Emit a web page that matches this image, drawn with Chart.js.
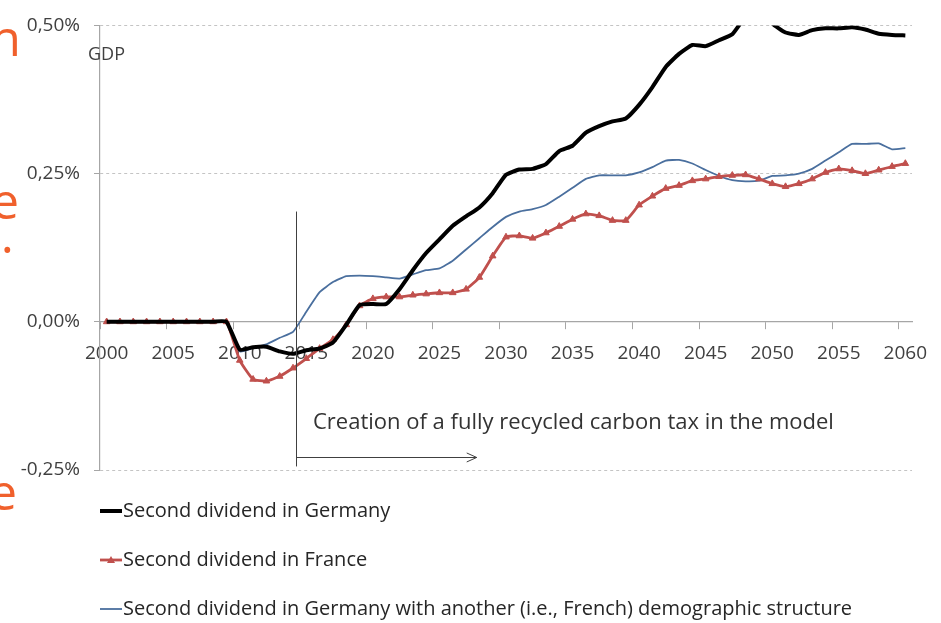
<!DOCTYPE html>
<html>
<head>
<meta charset="utf-8">
<title>Second dividend</title>
<script src="https://cdn.jsdelivr.net/npm/chart.js@4.4.1/dist/chart.umd.min.js"></script>
<style>
  html, body { margin: 0; padding: 0; background: #fff; }
  #wrap { width: 941px; height: 623px; }
</style>
</head>
<body>
<div id="wrap"><canvas id="chart" width="941" height="623"></canvas></div>
<script>
// ---- data (in % of GDP) ----
const years = [
  '2000','2001','2002','2003','2004','2005','2006','2007','2008','2009',
  '2010','2011','2012','2013','2014','2015','2016','2017','2018','2019',
  '2020','2021','2022','2023','2024','2025','2026','2027','2028','2029',
  '2030','2031','2032','2033','2034','2035','2036','2037','2038','2039',
  '2040','2041','2042','2043','2044','2045','2046','2047','2048','2049',
  '2050','2051','2052','2053','2054','2055','2056','2057','2058','2059',
  '2060'
];

const germany = [
  0, 0, 0, 0, 0, 0, 0, 0, 0, 0,
  -0.047, -0.043, -0.042, -0.050, -0.054, -0.048, -0.045, -0.035, -0.005, 0.028,
  0.030, 0.030, 0.055, 0.087, 0.116, 0.139, 0.162, 0.178, 0.193, 0.217,
  0.248, 0.257, 0.258, 0.266, 0.288, 0.297, 0.319, 0.330, 0.338, 0.343,
  0.366, 0.396, 0.430, 0.452, 0.467, 0.465, 0.475, 0.485, 0.515, 0.530,
  0.503, 0.488, 0.484, 0.492, 0.495, 0.495, 0.497, 0.493, 0.486, 0.484,
  0.483
];

const france = [
  0, 0, 0, 0, 0, 0, 0, 0, 0, 0,
  -0.065, -0.097, -0.100, -0.092, -0.078, -0.062, -0.045, -0.030, -0.005, 0.027,
  0.039, 0.042, 0.042, 0.045, 0.047, 0.049, 0.049, 0.055, 0.075, 0.111,
  0.143, 0.145, 0.141, 0.150, 0.161, 0.173, 0.182, 0.179, 0.171, 0.171,
  0.197, 0.212, 0.225, 0.230, 0.238, 0.241, 0.245, 0.247, 0.248, 0.241,
  0.233, 0.228, 0.233, 0.241, 0.252, 0.258, 0.255, 0.250, 0.256, 0.262,
  0.267
];

const germanyFrenchDemo = [
  0, 0, 0, 0, 0, 0, 0, 0, 0, 0,
  -0.050, -0.044, -0.038, -0.027, -0.017, 0.017, 0.050, 0.067, 0.077, 0.078,
  0.077, 0.075, 0.073, 0.080, 0.087, 0.090, 0.103, 0.122, 0.141, 0.160,
  0.177, 0.186, 0.190, 0.197, 0.211, 0.226, 0.241, 0.247, 0.247, 0.247,
  0.252, 0.261, 0.272, 0.273, 0.267, 0.256, 0.246, 0.239, 0.237, 0.238,
  0.246, 0.247, 0.250, 0.258, 0.272, 0.286, 0.300, 0.300, 0.301, 0.291,
  0.293
];

const seriesNames = [
  'Second dividend in Germany',
  'Second dividend in France',
  'Second dividend in Germany with another (i.e., French) demographic structure'
];

const xTickYears = ['2000','2005','2010','2015','2020','2025','2030','2035','2040','2045','2050','2055','2060'];
const yTickValues = [-0.25, 0, 0.25, 0.5];

const annotationText = 'Creation of a fully recycled carbon tax in the model';

const FONT = '"Open Sans", "Noto Sans", sans-serif';
const AXIS_GREY = '#a6a6a6';

// extra drawing: slide fragments, GDP label, arrow annotation, legend
const extrasPlugin = {
  id: 'extras',
  afterDraw(chart) {
    const { ctx, scales: { x, y } } = chart;
    ctx.save();

    // cut-off orange slide text on the left edge
    ctx.fillStyle = '#f0602c';
    ctx.font = '50px ' + FONT;
    ctx.textAlign = 'right';
    ctx.textBaseline = 'alphabetic';
    ctx.fillText('n', 21, 56);
    ctx.fillText('e', 19, 219);
    ctx.fillText('.', 14, 253);
    ctx.fillText('e', 17, 510);

    // "GDP" unit label
    ctx.fillStyle = '#404040';
    ctx.font = '18px ' + FONT;
    ctx.textAlign = 'left';
    ctx.fillText('GDP', chart.chartArea.left - 12, 60);

    // carbon tax start: vertical rule + arrow
    const xs = x.getPixelForValue(14.25);
    const xe = x.getPixelForValue(27.8);
    const yTop = y.getPixelForValue(0.186);
    const yBot = y.getPixelForValue(-0.244);
    const yArr = y.getPixelForValue(-0.228);
    ctx.strokeStyle = '#404040';
    ctx.lineWidth = 1;
    ctx.beginPath();
    ctx.moveTo(Math.round(xs) + 0.5, yTop);
    ctx.lineTo(Math.round(xs) + 0.5, yBot);
    ctx.moveTo(xs, Math.round(yArr) + 0.5);
    ctx.lineTo(xe, Math.round(yArr) + 0.5);
    ctx.moveTo(xe - 10, yArr - 4);
    ctx.lineTo(xe, yArr + 0.5);
    ctx.lineTo(xe - 10, yArr + 5);
    ctx.stroke();

    ctx.fillStyle = '#333';
    ctx.font = '22px ' + FONT;
    ctx.textBaseline = 'middle';
    ctx.fillText(annotationText, x.getPixelForValue(15.5), y.getPixelForValue(-0.171));

    // legend, stacked under the plot
    chart.data.datasets.forEach((ds, i) => {
      const cy = 511 + i * 49;
      ctx.strokeStyle = ds.borderColor;
      ctx.lineWidth = ds.borderWidth;
      ctx.beginPath();
      ctx.moveTo(100, cy);
      ctx.lineTo(122, cy);
      ctx.stroke();
      if (ds.pointStyle === 'triangle') {
        ctx.fillStyle = ds.borderColor;
        ctx.beginPath();
        ctx.moveTo(111, cy - 4);
        ctx.lineTo(115, cy + 3);
        ctx.lineTo(107, cy + 3);
        ctx.closePath();
        ctx.fill();
      }
      ctx.fillStyle = '#262626';
      ctx.font = '20px ' + FONT;
      ctx.textAlign = 'left';
      ctx.textBaseline = 'middle';
      ctx.fillText(ds.label, 123, cy);
    });

    ctx.restore();
  }
};

new Chart(document.getElementById('chart'), {
  type: 'line',
  data: {
    labels: years,
    datasets: [
      {
        label: seriesNames[0],
        data: germany,
        borderColor: '#000000',
        borderWidth: 4,
        pointRadius: 0,
        tension: 0.15
      },
      {
        label: seriesNames[1],
        data: france,
        borderColor: '#c0504d',
        backgroundColor: '#c0504d',
        borderWidth: 2.8,
        pointStyle: 'triangle',
        pointRadius: 3.8,
        pointBorderWidth: 1,
        tension: 0.15
      },
      {
        label: seriesNames[2],
        data: germanyFrenchDemo,
        borderColor: '#4a6f9e',
        borderWidth: 1.8,
        pointRadius: 0,
        tension: 0.15
      }
    ]
  },
  options: {
    responsive: false,
    animation: false,
    layout: { padding: { left: 0, right: 29, top: 19, bottom: 153 } },
    plugins: {
      legend: { display: false },
      tooltip: { enabled: false }
    },
    scales: {
      x: {
        type: 'category',
        position: { y: 0 },
        offset: true,
        grid: {
          drawOnChartArea: false,
          offset: true,
          tickLength: 7,
          tickColor: c => (c.tick && xTickYears.includes(years[c.index])) ? AXIS_GREY : 'rgba(0,0,0,0)'
        },
        border: { color: AXIS_GREY, width: 1.2 },
        ticks: {
          autoSkip: false,
          maxRotation: 0,
          minRotation: 0,
          padding: 13,
          color: '#404040',
          font: { family: FONT, size: 19 },
          callback: (v, i) => xTickYears.includes(years[i]) ? years[i] : ''
        }
      },
      y: {
        position: 'left',
        min: -0.25,
        max: 0.5,
        afterBuildTicks: s => { s.ticks = yTickValues.map(v => ({ value: v })); },
        afterFit: s => { s.width = 100; },
        grid: {
          color: c => (c.tick && c.tick.value === 0) ? 'rgba(0,0,0,0)' : '#c4c4c4',
          tickColor: AXIS_GREY,
          tickLength: 6,
          lineWidth: 1
        },
        border: { color: AXIS_GREY, width: 1.2, dash: [3, 3] },
        ticks: {
          padding: 14,
          color: '#404040',
          font: { family: FONT, size: 19 },
          callback: v => v.toFixed(2).replace('.', ',') + '%'
        }
      }
    }
  },
  plugins: [extrasPlugin]
});
</script>
</body>
</html>
